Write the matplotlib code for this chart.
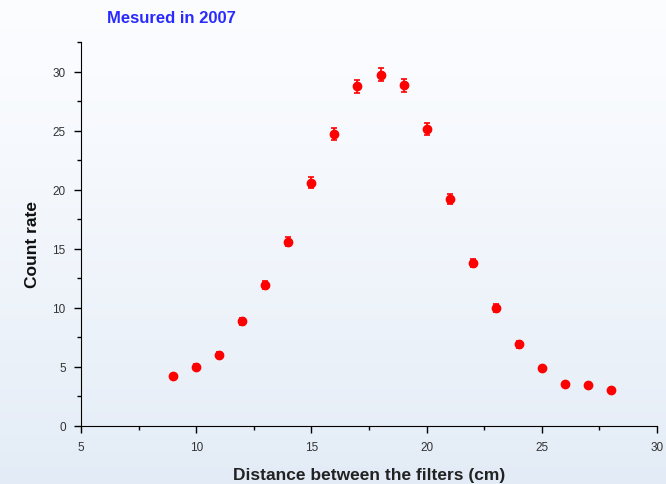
import numpy as np
from matplotlib import pyplot as plt

distance = [9, 10, 11, 12, 13, 14, 15, 16, 17, 18, 19, 20, 21, 22, 23, 24, 25, 26, 27, 28]
count_rate = [4.23, 4.99, 6.0, 8.87, 11.9, 15.6, 20.6, 24.7, 28.75, 29.75, 28.85, 25.15,
              19.2, 13.8, 10.0, 6.9, 4.9, 3.55, 3.47, 3.04]
count_err = [0.21, 0.22, 0.24, 0.3, 0.34, 0.39, 0.45, 0.5, 0.54, 0.55, 0.54, 0.5,
             0.44, 0.37, 0.32, 0.26, 0.22, 0.19, 0.19, 0.17]

plt.rcParams['font.family'] = ['Liberation Sans', 'DejaVu Sans']

fig = plt.figure(figsize=(6.66, 4.85), dpi=100)

# background gradient, white at top to pale blue at bottom
bg = fig.add_axes([0, 0, 1, 1], zorder=-10)
grad = np.linspace(0, 1, 256).reshape(-1, 1)
top = np.array([0.985, 0.99, 1.0])
bottom = np.array([0.89, 0.925, 0.965])
img = top + (bottom - top) * grad[:, :, None] ** 1.3
bg.imshow(img, aspect='auto', extent=[0, 1, 0, 1])
bg.axis('off')

ax = fig.add_axes([0.1216, 0.1196, 0.8649, 0.7917])
ax.patch.set_alpha(0)

ax.errorbar(distance, count_rate, yerr=count_err, fmt='o', color='#ff0000',
            markersize=6, capsize=2.5, elinewidth=1.2, capthick=1.2)

ax.set_xlim(5, 30)
ax.set_ylim(0, 32.5)
ax.set_xticks([5, 10, 15, 20, 25, 30])
ax.set_xticks([7.5, 12.5, 17.5, 22.5, 27.5], minor=True)
ax.set_yticks([0, 5, 10, 15, 20, 25, 30])
ax.set_yticks([2.5, 7.5, 12.5, 17.5, 22.5, 27.5, 32.5], minor=True)

for side in ['top', 'right']:
    ax.spines[side].set_visible(False)
ax.tick_params(which='major', length=5, width=1, labelsize=8.5, labelcolor='#333333', pad=6)
ax.tick_params(which='minor', length=3, width=1)

ax.set_xlabel('Distance between the filters (cm)', fontsize=12.5, fontweight='bold',
              color='#222222')
ax.xaxis.set_label_coords(0.5, -0.107)
ax.set_ylabel('Count rate', fontsize=12.5, fontweight='bold', color='#111111')
ax.yaxis.set_label_coords(-0.071, 0.474)

fig.text(0.258, 0.962, 'Mesured in 2007', color='#2a2aff', fontsize=12,
         fontweight='bold', ha='center', va='center')

fig.savefig('out.png', dpi=100)
